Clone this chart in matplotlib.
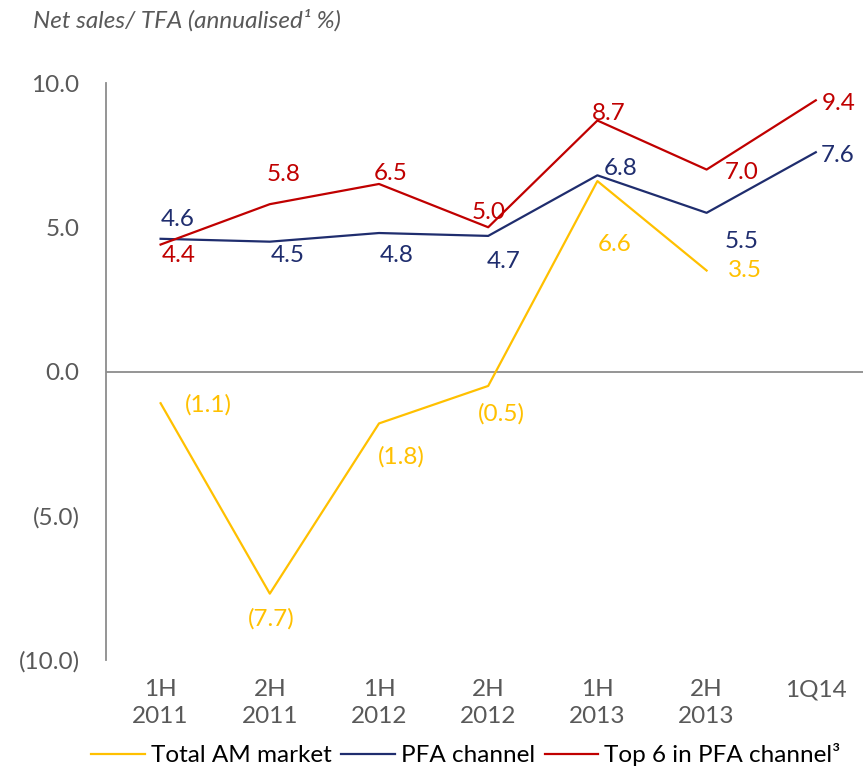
import matplotlib.pyplot as plt
from matplotlib.ticker import FuncFormatter

plt.rcParams['font.family'] = ['Lato', 'DejaVu Sans']

periods = ['1H\n2011', '2H\n2011', '1H\n2012', '2H\n2012', '1H\n2013', '2H\n2013', '1Q14']
total_am = [-1.1, -7.7, -1.8, -0.5, 6.6, 3.5]
pfa = [4.6, 4.5, 4.8, 4.7, 6.8, 5.5, 7.6]
top6 = [4.4, 5.8, 6.5, 5.0, 8.7, 7.0, 9.4]

# label offsets in pixels (dx, dy)
off_am = [(48, -2), (1, -25), (22, -33), (13, -28), (17, -63), (38, 0)]
off_pfa = [(17, 19), (18, -14), (18, -22), (15, -26), (23, 7), (35, -29), (22, -3)]
off_top = [(18, -11), (14, 30), (12, 10), (0, 15), (11, 7), (35, -3), (23, -3)]

c_am = '#FFC000'
c_pfa = '#1F2D6E'
c_top = '#C00000'
grey = '#595959'
fs = 17.5


def fmt(v):
    return f'({abs(v):.1f})' if v < 0 else f'{v:.1f}'


fig = plt.figure(figsize=(8.63, 7.69), dpi=100)
ax = fig.add_axes([106 / 863, 109 / 769, 757 / 863, 577 / 769])

x = range(len(periods))
ax.plot(range(len(total_am)), total_am, color=c_am, lw=1.6, label='Total AM market')
ax.plot(x, pfa, color=c_pfa, lw=1.6, label='PFA channel')
ax.plot(x, top6, color=c_top, lw=1.6, label='Top 6 in PFA channel³')

for vals, offs, c in [(total_am, off_am, c_am), (pfa, off_pfa, c_pfa), (top6, off_top, c_top)]:
    for i, (v, o) in enumerate(zip(vals, offs)):
        ax.annotate(fmt(v), (i, v), xytext=o, textcoords='offset pixels',
                    ha='center', va='center', color=c, fontsize=fs)

ax.axhline(0, color='#8C8C8C', lw=1.3, zorder=0)
ax.set_xlim(-0.5, -0.5 + 757 / 109.2)
ax.set_ylim(-10, 10)
ax.set_yticks([-10, -5, 0, 5, 10])
ax.yaxis.set_major_formatter(FuncFormatter(lambda v, p: fmt(v)))
ax.set_xticks(list(x))
ax.set_xticklabels(periods, linespacing=1.35)
ax.tick_params(length=0, labelsize=fs, colors=grey)
ax.tick_params(axis='x', pad=14)
ax.tick_params(axis='y', pad=19)
for s in ['top', 'right', 'bottom']:
    ax.spines[s].set_visible(False)
ax.spines['left'].set_color('#8C8C8C')
ax.spines['left'].set_linewidth(1.3)

fig.text(33 / 863, 1 - 20 / 769, 'Net sales/ TFA (annualised¹ %)', style='italic',
         color=grey, fontsize=fs, va='center', ha='left')

fig.legend(loc='center', bbox_to_anchor=(466 / 863, 1 - 755 / 769), ncol=3, frameon=False,
           fontsize=fs, handlelength=2.2, columnspacing=0.4, handletextpad=0.25)

fig.savefig('out.png', dpi=100)
